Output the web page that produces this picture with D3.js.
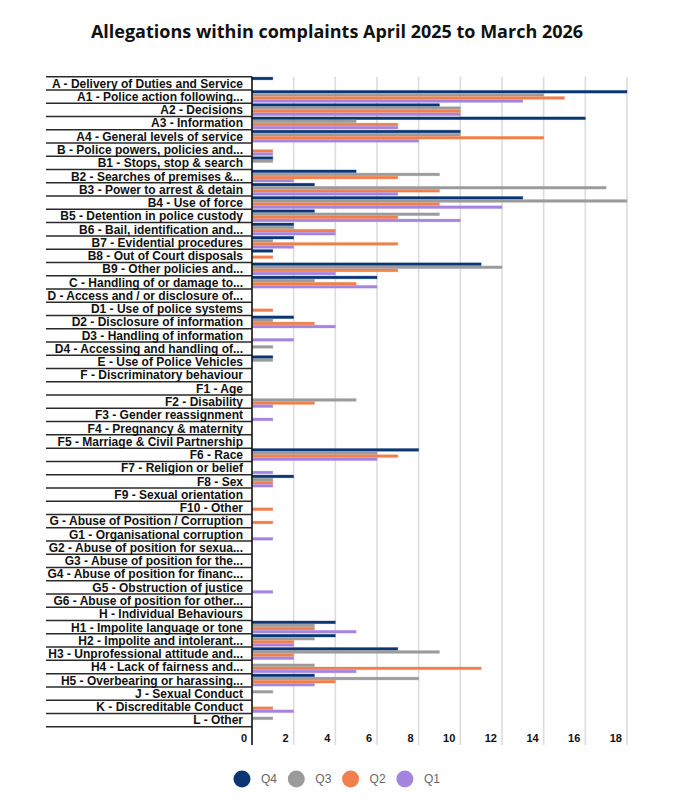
<!DOCTYPE html>
<html>
<head>
<meta charset="utf-8">
<script src="https://cdn.jsdelivr.net/npm/d3@7"></script>
<style>
  body { margin: 0; background: #fff; }
  #chart { width: 675px; height: 808px; }
</style>
</head>
<body>
<div id="chart"></div>
<script>
const categories = [
    "A - Delivery of Duties and Service",
    "A1 - Police action following...",
    "A2 - Decisions",
    "A3 - Information",
    "A4 - General levels of service",
    "B - Police powers, policies and...",
    "B1 - Stops, stop & search",
    "B2 - Searches of premises &...",
    "B3 - Power to arrest & detain",
    "B4 - Use of force",
    "B5 - Detention in police custody",
    "B6 - Bail, identification and...",
    "B7 - Evidential procedures",
    "B8 - Out of Court disposals",
    "B9 - Other policies and...",
    "C - Handling of or damage to...",
    "D - Access and / or disclosure of...",
    "D1 - Use of police systems",
    "D2 - Disclosure of information",
    "D3 - Handling of information",
    "D4 - Accessing and handling of...",
    "E - Use of Police Vehicles",
    "F - Discriminatory behaviour",
    "F1 - Age",
    "F2 - Disability",
    "F3 - Gender reassignment",
    "F4 - Pregnancy & maternity",
    "F5 - Marriage & Civil Partnership",
    "F6 - Race",
    "F7 - Religion or belief",
    "F8 - Sex",
    "F9 - Sexual orientation",
    "F10 - Other",
    "G - Abuse of Position / Corruption",
    "G1 - Organisational corruption",
    "G2 - Abuse of position for sexua...",
    "G3 - Abuse of position for the...",
    "G4 - Abuse of position for financ...",
    "G5 - Obstruction of justice",
    "G6 - Abuse of position for other...",
    "H - Individual Behaviours",
    "H1 - Impolite language or tone",
    "H2 - Impolite and intolerant...",
    "H3 - Unprofessional attitude and...",
    "H4 - Lack of fairness and...",
    "H5 - Overbearing or harassing...",
    "J - Sexual Conduct",
    "K - Discreditable Conduct",
    "L - Other"
]

//            A  A1 A2 A3 A4  B B1 B2 B3 B4 B5 B6 B7 B8 B9  C  D D1 D2 D3 D4  E  F F1 F2 F3 F4 F5 F6 F7 F8 F9 F10 G G1 G2 G3 G4 G5 G6  H H1 H2 H3 H4 H5  J  K  L
const q4 = [1, 18, 9, 16, 10, 0, 1, 5, 3, 13, 3, 2, 2, 1, 11, 6, 0, 0, 2, 0, 0, 1, 0, 0, 0, 0, 0, 0, 8, 0, 2, 0, 0, 0, 0, 0, 0, 0, 0, 0, 0, 4, 4, 7, 0, 3, 0, 0, 0]
const q3 = [0, 14, 10, 5, 10, 0, 1, 9, 17, 18, 9, 2, 1, 0, 12, 3, 0, 0, 1, 0, 1, 1, 0, 0, 5, 0, 0, 0, 6, 0, 1, 0, 0, 0, 0, 0, 0, 0, 0, 0, 0, 3, 3, 9, 3, 8, 1, 0, 1]
const q2 = [0, 15, 10, 7, 14, 1, 0, 7, 9, 9, 7, 4, 7, 1, 7, 5, 0, 1, 3, 0, 0, 0, 0, 0, 3, 0, 0, 0, 7, 0, 1, 0, 1, 1, 0, 0, 0, 0, 0, 0, 0, 3, 2, 2, 11, 4, 0, 1, 0]
const q1 = [0, 13, 10, 7, 8, 1, 0, 2, 7, 12, 10, 4, 2, 0, 4, 6, 0, 0, 4, 2, 0, 0, 0, 0, 1, 1, 0, 0, 6, 1, 1, 0, 0, 0, 1, 0, 0, 0, 1, 0, 0, 5, 2, 2, 5, 3, 0, 2, 0]

const seriesKeys = ["Q4", "Q3", "Q2", "Q1"]
const seriesValues = [q4, q3, q2, q1]
const seriesColors = ["#0b3674", "#9b9b9b", "#f07f4b", "#a584e0"]
const xTicks = [0, 2, 4, 6, 8, 10, 12, 14, 16, 18]

const width = 675,
    height = 808

const svg = d3.select("#chart")
    .append("svg")
    .attr("width", width)
    .attr("height", height)
    .style("font-family", "'Liberation Sans', Arial, sans-serif")

// title
svg.append("text")
    .attr("x", 337)
    .attr("y", 38)
    .attr("text-anchor", "middle")
    .attr("font-family", "'Open Sans', sans-serif")
    .attr("font-weight", 700)
    .attr("font-size", 18)
    .attr("fill", "#111")
    .text("Allegations within complaints April 2025 to March 2026")

const x = d3.scaleLinear().domain([0, 18]).range([252, 627])

const y0 = d3.scaleBand()
    .domain(categories)
    .range([76.7, 726.7])

const y1 = d3.scaleBand()
    .domain(seriesKeys)
    .range([0.4, y0.bandwidth() - 0.8])
    .paddingInner(0.12)

const color = d3.scaleOrdinal().domain(seriesKeys).range(seriesColors)

// grid
svg.append("g")
    .selectAll("line")
    .data(xTicks.filter(d => d > 0))
    .enter().append("line")
    .attr("x1", d => x(d))
    .attr("x2", d => x(d))
    .attr("y1", 76.7)
    .attr("y2", 745)
    .attr("stroke", "#dcdcdc")
    .attr("stroke-width", 1.6)

// category separators on the left side
const bounds = categories.map(c => y0(c)).concat([y0.range()[1]])
svg.append("g")
    .selectAll("line")
    .data(bounds)
    .enter().append("line")
    .attr("x1", 46)
    .attr("x2", 252)
    .attr("y1", d => d)
    .attr("y2", d => d)
    .attr("stroke", "#2a2a2a")
    .attr("stroke-width", 1.5)

// bars
const rows = categories.map((c, i) => ({
    cat: c,
    vals: seriesKeys.map((k, j) => ({ key: k, value: seriesValues[j][i] }))
}))

const groups = svg.append("g")
    .selectAll("g")
    .data(rows)
    .enter().append("g")
    .attr("transform", d => "translate(0," + y0(d.cat) + ")")

groups.selectAll("rect")
    .data(d => d.vals.filter(v => v.value > 0))
    .enter().append("rect")
    .attr("x", x(0))
    .attr("y", d => y1(d.key))
    .attr("width", d => x(d.value) - x(0))
    .attr("height", y1.bandwidth())
    .attr("fill", d => color(d.key))
    .attr("stroke", d => color(d.key))
    .attr("stroke-opacity", 0.35)
    .attr("stroke-width", 0.8)

// category labels
svg.append("g")
    .selectAll("text")
    .data(categories)
    .enter().append("text")
    .attr("x", 243)
    .attr("y", d => y0(d) + y0.bandwidth() / 2)
    .attr("dy", "0.36em")
    .attr("text-anchor", "end")
    .attr("font-size", 12)
    .attr("font-weight", 700)
    .attr("fill", "#111")
    .text(d => d)

// vertical axis line
svg.append("line")
    .attr("x1", x(0))
    .attr("x2", x(0))
    .attr("y1", 76.7)
    .attr("y2", 745)
    .attr("stroke", "#111")
    .attr("stroke-width", 1.6)

// tick labels
svg.append("g")
    .selectAll("text")
    .data(xTicks)
    .enter().append("text")
    .attr("x", d => x(d) - 5)
    .attr("y", 742)
    .attr("text-anchor", "end")
    .attr("font-size", 11)
    .attr("font-weight", 700)
    .attr("fill", "#111")
    .text(d => d)

// legend
const legend = svg.append("g")
    .selectAll("g")
    .data(seriesKeys)
    .enter().append("g")
    .attr("transform", (d, i) => "translate(" + (242 + i * 54.3) + ",779)")

legend.append("circle")
    .attr("r", 8.5)
    .attr("fill", d => color(d))

legend.append("text")
    .attr("x", 19)
    .attr("dy", "0.35em")
    .attr("font-size", 12)
    .attr("fill", "#666")
    .text(d => d)
</script>
</body>
</html>
